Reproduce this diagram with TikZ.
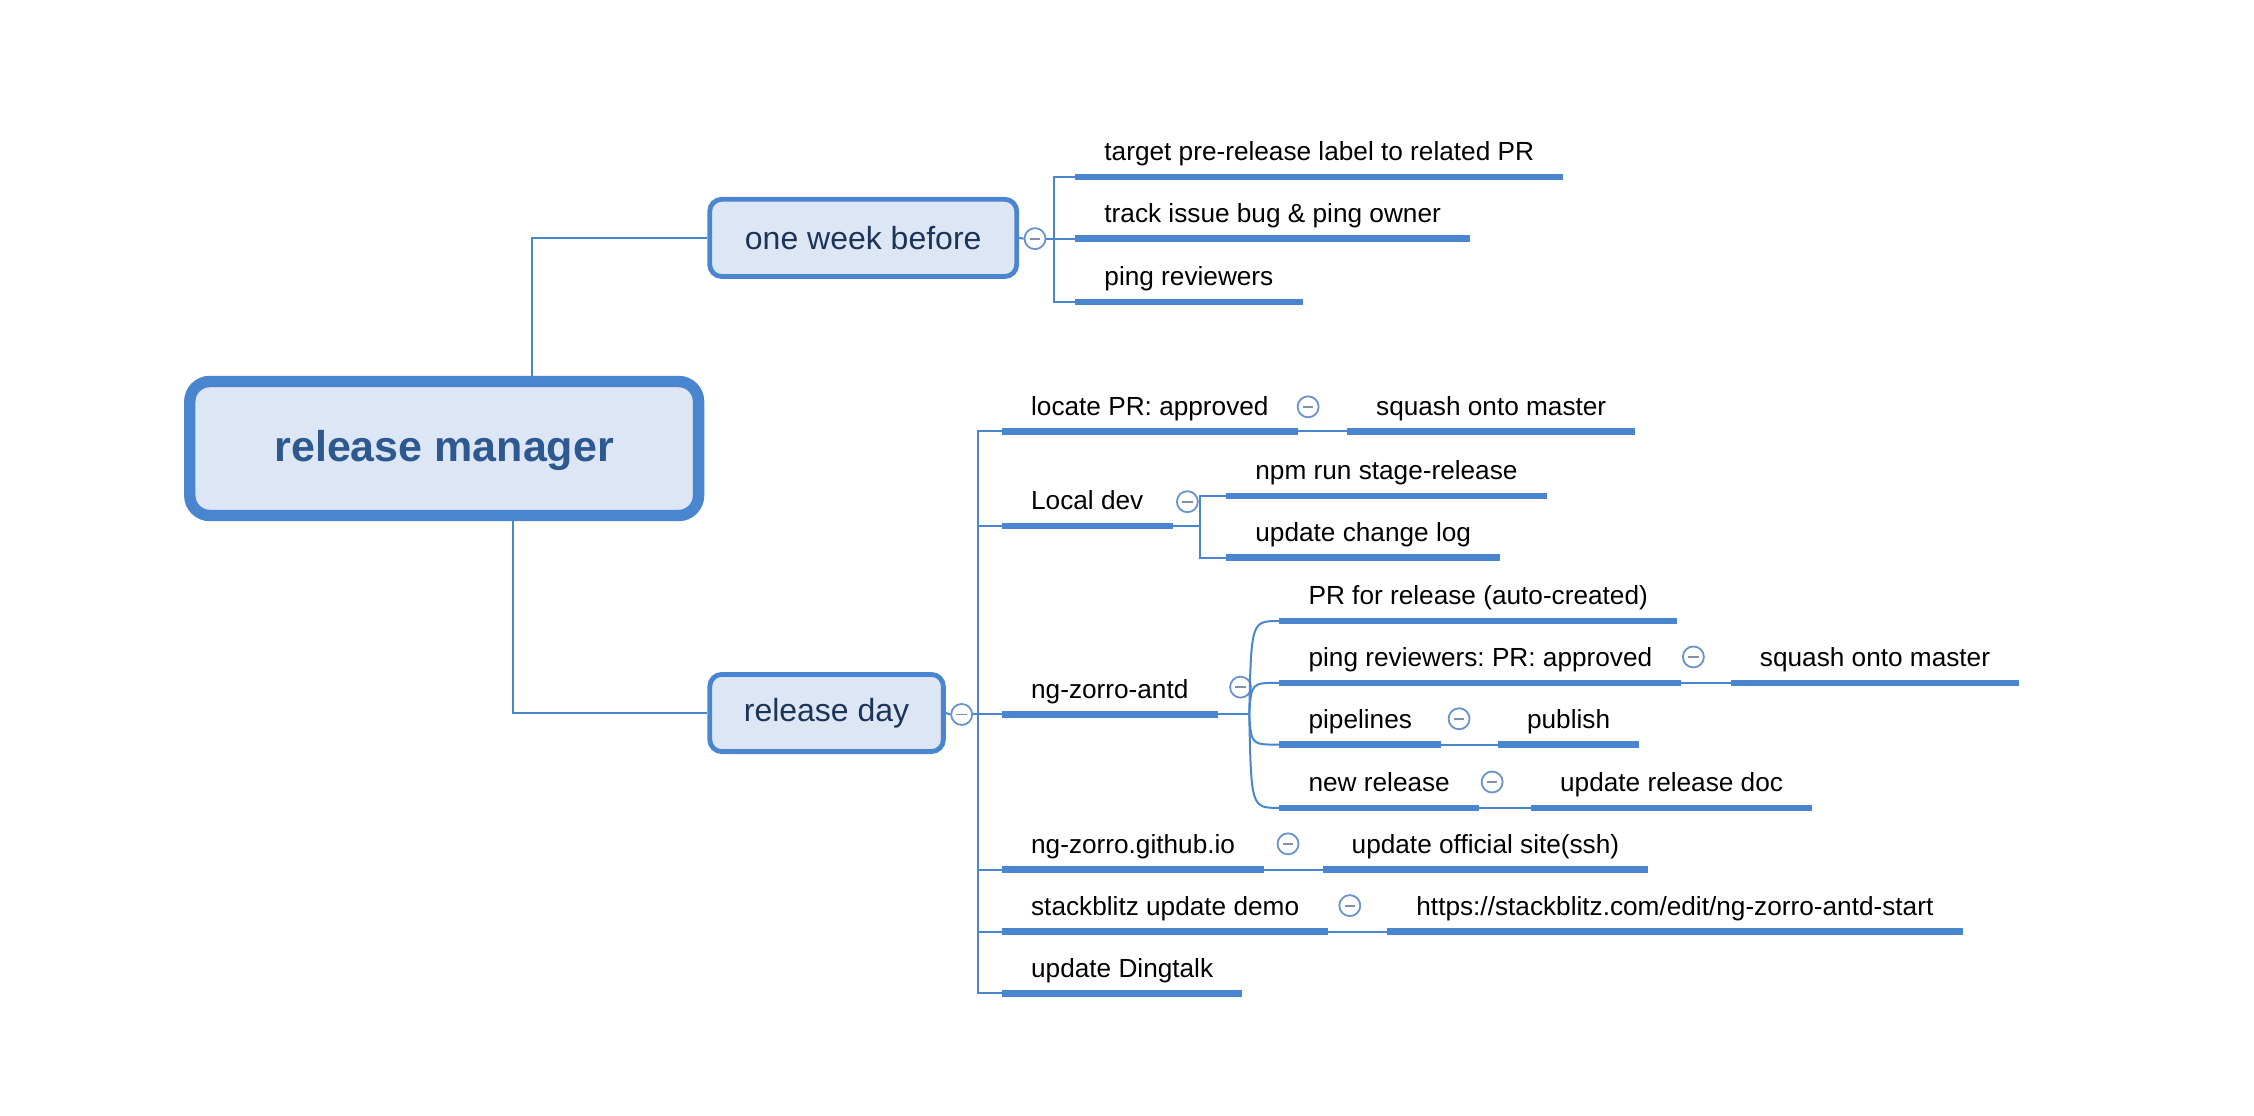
\documentclass[tikz,border=0pt]{standalone}
\usepackage{fontspec}
\setmainfont{Liberation Sans}
\usetikzlibrary{positioning}
\frenchspacing

\definecolor{lineblue}{HTML}{4A86CF}
\definecolor{boxfill}{HTML}{DDE6F4}
\definecolor{roottext}{HTML}{2D5890}
\definecolor{subtext}{HTML}{1C3457}
\definecolor{cbord}{HTML}{6A93CC}
\definecolor{cminus}{HTML}{8090A8}

\tikzset{
  rootbox/.style={rectangle, rounded corners=10pt, draw=lineblue, fill=boxfill, line width=5.7pt,
    minimum width=254.4pt, minimum height=67pt, text height=15pt, text depth=2pt,
    font=\fontsize{21.5}{24}\selectfont\bfseries, text=roottext},
  subbox/.style={rectangle, rounded corners=6pt, draw=lineblue, fill=boxfill, line width=2.4pt,
    minimum height=38.6pt, font=\fontsize{16}{19}\selectfont, text=subtext},
  topic/.style={anchor=south west, inner xsep=14.4pt, inner ysep=4.9pt, text height=9.5pt, text depth=3pt,
    font=\fontsize{13.1}{16}\selectfont},
  uline/.style={draw=lineblue, line width=3.3pt},
  branch/.style={draw=lineblue, line width=1pt},
  collapse/.style={circle, draw=cbord, fill=white, line width=0.9pt, minimum size=10.5pt, inner sep=0pt,
    path picture={\draw[line width=0.9pt, cminus] ([xshift=-2.6pt]path picture bounding box.center)
      -- ([xshift=2.6pt]path picture bounding box.center);}}
}

\begin{document}
\begin{tikzpicture}[x=0.71875pt, y=-0.71875pt]
    \useasboundingbox (0,0) rectangle (1568,776);

    % Main topics
    \node (root) at (309,312) [rootbox] {release manager};
    \node (owb) at (600.5,165.5) [subbox, minimum width=153.5pt] {one week before};
    \node (rd) at (575,496) [subbox, minimum width=116.8pt] {release day};

    % Topics: one week before
    \node (tgt) at (748,123) [topic] {target pre-release label to related PR};
    \node (trk) at (748,166) [topic] {track issue bug \& ping owner};
    \node (prv) at (748,210) [topic] {ping reviewers};

    % Topics: release day
    \node (lpr) at (697,300) [topic] {locate PR: approved};
    \node (sqa) at (937,300) [topic] {squash onto master};
    \node (ldv) at (697,366) [topic] {Local dev};
    \node (npm) at (853,345) [topic] {npm run stage-release};
    \node (ucl) at (853,388) [topic] {update change log};
    \node (nza) at (697,497) [topic] {ng-zorro-antd};
    \node (prr) at (890,432) [topic] {PR for release (auto-created)};
    \node (pra) at (890,475) [topic] {ping reviewers: PR: approved};
    \node (sqb) at (1204,475) [topic] {squash onto master};
    \node (ppl) at (890,518) [topic] {pipelines};
    \node (pub) at (1042,518) [topic] {publish};
    \node (nrl) at (890,562) [topic] {new release};
    \node (urd) at (1065,562) [topic] {update release doc};
    \node (gio) at (697,605) [topic] {ng-zorro.github.io};
    \node (uos) at (920,605) [topic] {update official site(ssh)};
    \node (sbd) at (697,648) [topic] {stackblitz update demo};
    \node (url) at (965,648) [topic] {https://stackblitz.com/edit/ng-zorro-antd-start};
    \node (udt) at (697,691) [topic] {update Dingtalk};

    % Collapse buttons
    \node (owbc) at (720,166) [collapse] {};
    \node (rdc) at (669,497) [collapse] {};
    \node (lprc) at (910,283) [collapse] {};
    \node (ldvc) at (826,349) [collapse] {};
    \node (nzac) at (863,478) [collapse] {};
    \node (prac) at (1178,457) [collapse] {};
    \node (pplc) at (1015,500) [collapse] {};
    \node (nrlc) at (1038,544) [collapse] {};
    \node (gioc) at (896,587) [collapse] {};
    \node (sbdc) at (939,630) [collapse] {};

    % Root branches
    \draw[branch] ([xshift=43.8pt]root.north) |- (owb.west);
    \draw[branch] ([xshift=34.5pt]root.south) |- (rd.west);
    \draw[branch] (owb.east) -- (owbc.west);
    \draw[branch] (rd.east) -- (rdc.west);

    % Spines
    \foreach \t in {tgt,trk,prv}
        \draw[branch] (owbc.east) -- ++(5.5,0) |- (\t.south west);
    \foreach \t in {lpr,ldv,nza,gio,sbd,udt}
        \draw[branch] (rdc.east) -- ++(3.5,0) |- (\t.south west);

    % Sub topics
    \draw[branch] (lpr.south east) -- (sqa.south west);
    \draw[branch] (ldv.south east) -| ([xshift=-12.9pt]npm.south west) -- (npm.south west);
    \draw[branch] (ldv.south east) -| ([xshift=-12.9pt]ucl.south west) -- (ucl.south west);
    \draw[branch] (nza.south east) -- ++(22,0) coordinate (nzj);
    \foreach \t in {prr,pra,ppl,nrl}
        \draw[branch] (nzj) .. controls ([xshift=1pt]nzj |- \t.south west) .. (\t.south west);
    \draw[branch] (pra.south east) -- (sqb.south west);
    \draw[branch] (ppl.south east) -- (pub.south west);
    \draw[branch] (nrl.south east) -- (urd.south west);
    \draw[branch] (gio.south east) -- (uos.south west);
    \draw[branch] (sbd.south east) -- (url.south west);

    % Underlines
    \foreach \t in {tgt,trk,prv,lpr,sqa,ldv,npm,ucl,nza,prr,pra,sqb,ppl,pub,nrl,urd,gio,uos,sbd,url,udt}
        \draw[uline] (\t.south west) -- (\t.south east);
\end{tikzpicture}
\end{document}
